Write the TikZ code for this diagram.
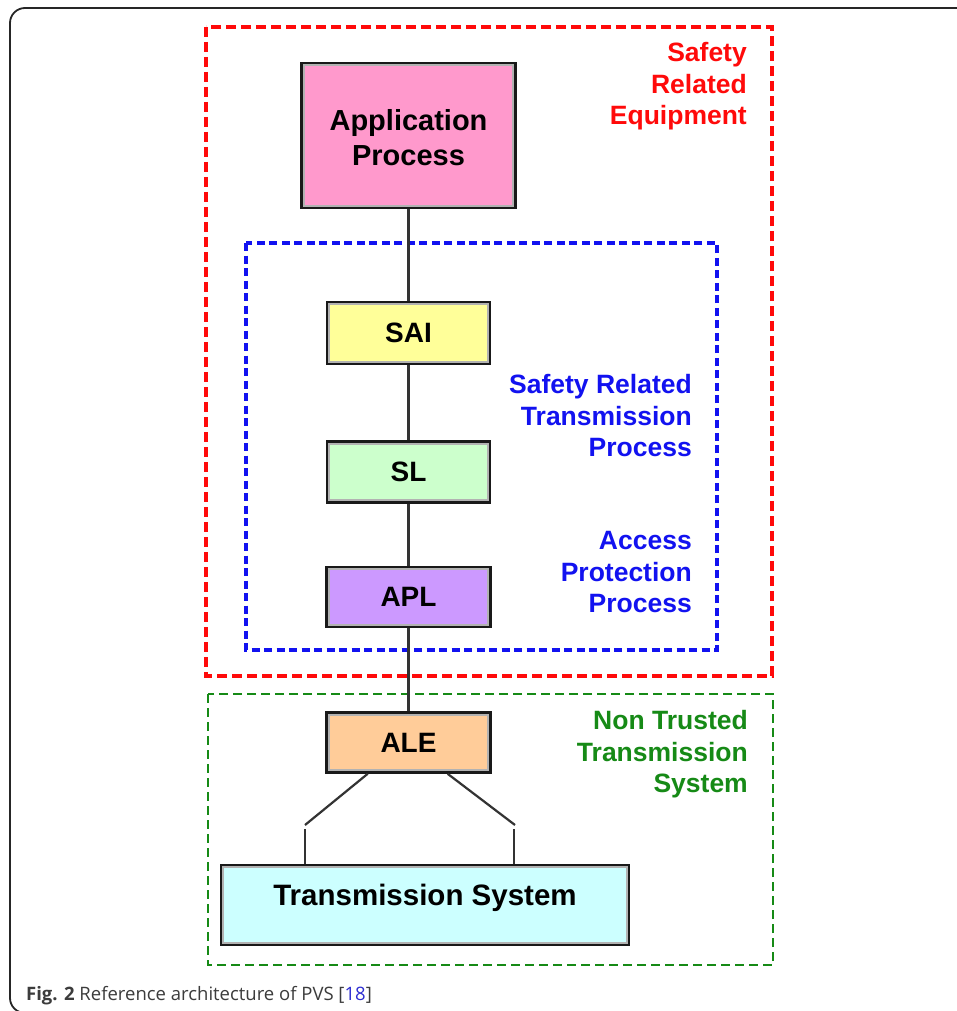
\documentclass[tikz,border=0pt]{standalone}
\usepackage{fontspec}
\setmainfont{Liberation Sans}
\newfontfamily\capfont{Open Sans}
\usetikzlibrary{calc}

\definecolor{apfill}{HTML}{FF99CC}
\definecolor{saifill}{HTML}{FFFF99}
\definecolor{slfill}{HTML}{CCFFCC}
\definecolor{aplfill}{HTML}{CC99FF}
\definecolor{alefill}{HTML}{FFCC99}
\definecolor{tsfill}{HTML}{CCFFFF}
\definecolor{zred}{HTML}{FF0A0A}
\definecolor{zblue}{HTML}{1212F0}
\definecolor{zgreen}{HTML}{168A16}
\definecolor{captext}{HTML}{3C3C3C}
\definecolor{citeblue}{HTML}{2D2DD2}

\begin{document}
\begin{tikzpicture}[x=1pt,y=-1pt,
  box/.style={draw=black!90, line width=2.6pt, align=center, inner sep=0pt,
    font=\bfseries\fontsize{28}{35}\selectfont,
    path picture={\draw[gray!60, line width=2pt]
      ([xshift=2.3pt,yshift=-2.3pt]path picture bounding box.north west) rectangle
      ([xshift=-2.3pt,yshift=2.3pt]path picture bounding box.south east);}},
  conn/.style={draw=black!80, line width=2.2pt},
  zonelabel/.style={font=\bfseries\fontsize{26.5}{31.5}\selectfont, align=right,
    inner sep=0pt, anchor=north east},
  redzone/.style={draw=zred, line width=3.6pt, dash pattern=on 10pt off 5pt},
  bluezone/.style={draw=zblue, line width=3.2pt, dash pattern=on 8pt off 4.5pt},
  greenzone/.style={draw=zgreen, line width=2.6pt, dash pattern=on 9pt off 5pt}
]
\useasboundingbox (0,0) rectangle (957,1011);
\fill[white] (0,0) rectangle (957,1011);

% figure frame, running off the right and bottom edges
\begin{scope}
  \clip (0,0) rectangle (957,1011);
  \draw[black!85, line width=1.8pt, rounded corners=15pt] (10,8) rectangle (1000,1013);
\end{scope}

% dashed zones
\draw[redzone] (206,27) rectangle (772,676);
\draw[bluezone] (246,243) rectangle (717,650);
\draw[greenzone] (208,694) rectangle (773,965);

% zone labels
\node[zonelabel, text=zred] (lblsre) at (747,42.5) {Safety\\Related\\Equipment};
\node[zonelabel, text=zblue] (lblsrt) at (692,374.5) {Safety Related\\Transmission\\Process};
\node[zonelabel, text=zblue] (lblapp) at (692,531.5) {Access\\Protection\\Process};
\node[zonelabel, text=zgreen] (lblnts) at (748,710.5) {Non Trusted\\Transmission\\System};

% protocol stack
\node[box, fill=apfill, minimum width=214, minimum height=145,
      font=\bfseries\fontsize{29}{35}\selectfont] (AP) at (408.5,135.5) {\rule{0pt}{26pt}Application\\Process};
\node[box, fill=saifill, minimum width=163, minimum height=62] (SAI) at (408.5,333) {SAI};
\node[box, fill=slfill, minimum width=163, minimum height=61] (SL) at (408.5,472) {SL};
\node[box, fill=aplfill, minimum width=164, minimum height=60] (APL) at (408.5,597) {APL};
\node[box, fill=alefill, minimum width=164, minimum height=60] (ALE) at (408.5,742.5) {ALE};
\node[box, fill=tsfill, minimum width=408, minimum height=80,
      font=\bfseries\fontsize{29.5}{35}\selectfont, text height=22pt, text depth=22pt] (TS) at (425,905) {Transmission System};

% vertical links
\draw[conn] (AP.south) -- (SAI.north);
\draw[conn] (SAI.south) -- (SL.north);
\draw[conn] (SL.south) -- (APL.north);
\draw[conn] (APL.south) -- (ALE.north);

% ALE to transmission system, two branches
\coordinate (aleL) at ($(ALE.south west)!0.255!(ALE.south east)$);
\coordinate (aleR) at ($(ALE.south west)!0.735!(ALE.south east)$);
\coordinate (kneeL) at (305,825);
\coordinate (kneeR) at (515,825);
\coordinate (dropL) at (305,829);
\coordinate (dropR) at (514,829);
\draw[conn] (aleL) -- (kneeL);
\draw[conn] (aleR) -- (kneeR);
\draw[conn] (dropL) -- (dropL |- TS.north);
\draw[conn] (dropR) -- (dropR |- TS.north);

% caption
\node[anchor=base west, inner sep=0pt, text=captext,
      font=\capfont\fontsize{18.5}{22}\selectfont] (cap) at (26,1000)
  {\textbf{Fig. 2} Reference architecture of PVS [\textcolor{citeblue}{18}]};
\end{tikzpicture}
\end{document}
